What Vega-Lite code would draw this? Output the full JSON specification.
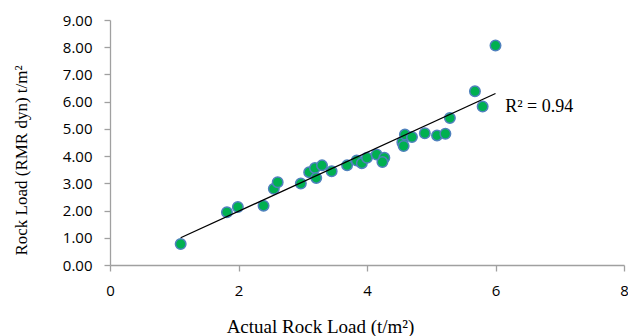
{
  "$schema": "https://vega.github.io/schema/vega-lite/v6.json",
  "autosize": {"type": "none"},
  "padding": {"left": 110, "top": 20, "right": 4, "bottom": 71},
  "width": 514,
  "height": 245,
  "background": "white",
  "config": {"view": {"stroke": null}},
  "datasets": {
    "pts": [
      {"actual": 1.10, "rmr": 0.77},
      {"actual": 1.82, "rmr": 1.94},
      {"actual": 1.99, "rmr": 2.13},
      {"actual": 2.39, "rmr": 2.18},
      {"actual": 2.55, "rmr": 2.80},
      {"actual": 2.61, "rmr": 3.04},
      {"actual": 2.97, "rmr": 2.99},
      {"actual": 3.10, "rmr": 3.41},
      {"actual": 3.19, "rmr": 3.56},
      {"actual": 3.21, "rmr": 3.20},
      {"actual": 3.30, "rmr": 3.66},
      {"actual": 3.45, "rmr": 3.44},
      {"actual": 3.69, "rmr": 3.66},
      {"actual": 3.84, "rmr": 3.84},
      {"actual": 3.92, "rmr": 3.74},
      {"actual": 4.00, "rmr": 3.94},
      {"actual": 4.15, "rmr": 4.06},
      {"actual": 4.27, "rmr": 3.94},
      {"actual": 4.24, "rmr": 3.78},
      {"actual": 4.55, "rmr": 4.51},
      {"actual": 4.57, "rmr": 4.37},
      {"actual": 4.59, "rmr": 4.79},
      {"actual": 4.70, "rmr": 4.70},
      {"actual": 4.90, "rmr": 4.84},
      {"actual": 5.09, "rmr": 4.76},
      {"actual": 5.22, "rmr": 4.82},
      {"actual": 5.29, "rmr": 5.40},
      {"actual": 5.68, "rmr": 6.38},
      {"actual": 5.80, "rmr": 5.82},
      {"actual": 6.00, "rmr": 8.06}
    ],
    "trend": [
      {"actual": 1.10, "rmr": 1.00},
      {"actual": 6.00, "rmr": 6.30}
    ],
    "label": [
      {"actual": 6.15, "rmr": 5.79, "text": "R² = 0.94"}
    ]
  },
  "encoding": {
    "x": {
      "field": "actual", "type": "quantitative",
      "scale": {"domain": [0, 8], "nice": false},
      "axis": {
        "values": [0, 2, 4, 6, 8], "grid": false, "format": "d", "labelFlush": false,
        "title": "Actual Rock Load (t/m²)",
        "titleFont": "Liberation Serif", "titleFontSize": 19, "titleFontWeight": "normal", "titleColor": "#000000",
        "titleX": 210, "titleY": 67, "titleAlign": "center", "titleBaseline": "alphabetic",
        "labelFont": "Open Sans", "labelFontSize": 15, "labelColor": "#000000", "labelPadding": 12,
        "domainColor": "#a0a0a0", "tickColor": "#a0a0a0", "tickSize": 6, "domainWidth": 1.3, "tickWidth": 1.3
      }
    },
    "y": {
      "field": "rmr", "type": "quantitative",
      "scale": {"domain": [0, 9], "nice": false},
      "axis": {
        "values": [0, 1, 2, 3, 4, 5, 6, 7, 8, 9], "grid": false, "format": ".2f", "labelOverlap": false, "labelFlush": false,
        "title": "Rock Load (RMR dyn) t/m²",
        "titleFont": "Liberation Serif", "titleFontSize": 17, "titleFontWeight": "normal", "titleColor": "#000000",
        "titleX": -89, "titleY": 140, "titleAngle": -90, "titleAlign": "center", "titleBaseline": "middle",
        "labelFont": "Open Sans", "labelFontSize": 15, "labelColor": "#000000", "labelPadding": 12,
        "domainColor": "#a0a0a0", "tickColor": "#a0a0a0", "tickSize": 6, "domainWidth": 1.3, "tickWidth": 1.3
      }
    }
  },
  "layer": [
    {
      "data": {"name": "pts"},
      "mark": {"type": "point", "filled": true, "shape": "circle", "size": 110, "fill": "#00b050", "stroke": "#4f81bd", "strokeWidth": 1.5, "opacity": 1}
    },
    {
      "data": {"name": "trend"},
      "mark": {"type": "line", "color": "#000000", "strokeWidth": 1.3}
    },
    {
      "data": {"name": "label"},
      "mark": {"type": "text", "align": "left", "baseline": "middle", "font": "Liberation Serif", "fontSize": 18, "color": "#000000"},
      "encoding": {
        "text": {"field": "text"}
      }
    }
  ]
}
